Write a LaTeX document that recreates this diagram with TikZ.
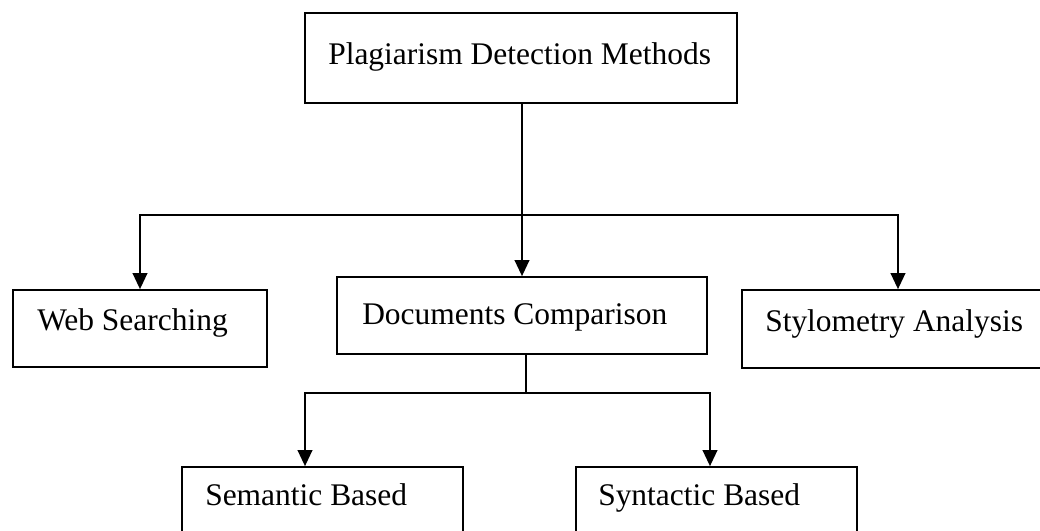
\documentclass[tikz,border=0pt]{standalone}
\usepackage{fontspec}
\setmainfont{Liberation Serif}
\usetikzlibrary{arrows.meta,calc}

\tikzset{
  box/.style={draw=black, line width=1.3pt, fill=white, rectangle, inner sep=0pt},
  lbl/.style={anchor=base west, inner sep=0pt, font=\fontsize{23.6pt}{28pt}\selectfont},
  link/.style={draw=black, line width=1.3pt},
  arr/.style={link, -{Triangle[width=11pt, length=12pt]}},
}

\begin{document}
\begin{tikzpicture}[x=0.75pt, y=-0.75pt]
  \fill[white] (0,0) rectangle (1040,531);
  \useasboundingbox (0,0) rectangle (1040,531);

  % boxes (centre, width, height in px)
  \node[box, minimum width=432*0.75pt, minimum height=90*0.75pt] (pdm) at (521,58) {};
  \node[box, minimum width=254*0.75pt, minimum height=77*0.75pt] (web) at (140,328.5) {};
  \node[box, minimum width=370*0.75pt, minimum height=77*0.75pt] (doc) at (522,315.5) {};
  \node[box, minimum width=312*0.75pt, minimum height=78*0.75pt] (sty) at (898,329) {};
  \node[box, minimum width=281*0.75pt, minimum height=80*0.75pt] (sem) at (322.5,507) {};
  \node[box, minimum width=281*0.75pt, minimum height=80*0.75pt] (syn) at (716.5,507) {};

  % labels
  \node[lbl] (pdmt) at (328,65) {Plagiarism Detection Methods};
  \node[lbl] (webt) at (37,330) {Web Searching};
  \node[lbl] (doct) at (362,325) {Documents Comparison};
  \node[lbl] (styt) at (765,332) {Stylometry Analysis};
  \node[lbl] (semt) at (205,505) {Semantic Based};
  \node[lbl] (synt) at (598,505) {Syntactic Based};

  % first level
  \coordinate (j1) at (522,215);
  \draw[arr] (pdm.south -| j1) -- (doc.north -| j1);
  \draw[arr] (j1) -| (web.north);
  \draw[arr] (j1) -| (sty.north);

  % second level
  \coordinate (j2) at (526,393);
  \draw[link] (doc.south -| j2) -- (j2);
  \draw[arr] (j2) -| ($(sem.north)+(-17.5,0)$);
  \draw[arr] (j2) -| ($(syn.north)+(-6.5,0)$);
\end{tikzpicture}
\end{document}
